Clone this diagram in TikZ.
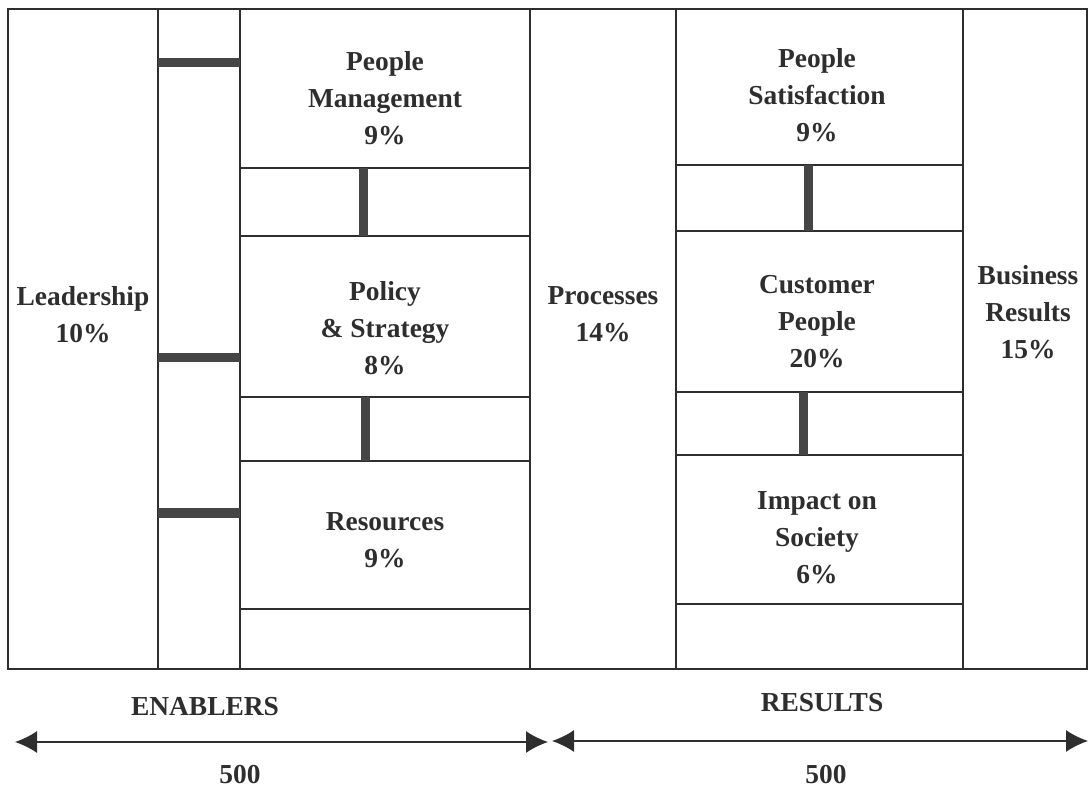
\documentclass[tikz,border=0pt]{standalone}
\usepackage{fontspec}
\setmainfont{Liberation Serif}
\usepackage{tikz}
\usetikzlibrary{arrows.meta}

\definecolor{inkgray}{HTML}{2E2E2E}
\definecolor{bargray}{HTML}{454545}

\tikzset{
	col/.style={shape=rectangle,draw=inkgray,line width=0.5pt,inner sep=0pt,outer sep=0pt,minimum height=6.6cm},
	box/.style={shape=rectangle,draw=inkgray,line width=0.5pt,inner sep=0pt,outer sep=0pt},
	txt/.style={align=center,text=inkgray,inner sep=0pt,font=\bfseries\fontsize{7.8}{10.5}\selectfont},
	bar/.style={draw=bargray,line width=0.09cm,line cap=butt},
	span/.style={draw=inkgray,line width=0.45pt,{Latex[length=2.2mm,width=2.2mm]}-{Latex[length=2.2mm,width=2.2mm]}}
}

\begin{document}
\begin{tikzpicture}[x=0.01cm,y=-0.01cm]
	
	\useasboundingbox[fill=white] (0,0) rectangle (1089,795);
	
	% columns
	\node[col,minimum width=1.5cm] (lead) at (83, 339) {};
	\node[col,minimum width=0.82cm] (lgap) at (199, 339) {};
	\node[col,minimum width=2.9cm] (encol) at (385, 339) {};
	\node[col,minimum width=1.46cm] (proc) at (603, 339) {};
	\node[col,minimum width=2.87cm] (rescol) at (819.5, 339) {};
	\node[col,minimum width=1.24cm] (bus) at (1025, 339) {};
	
	% enablers
	\node[box,minimum width=2.9cm,minimum height=1.59cm] (pm) at (385, 88.5) {};
	\node[box,minimum width=2.9cm,minimum height=1.61cm] (ps) at (385, 316.5) {};
	\node[box,minimum width=2.9cm,minimum height=1.48cm] (rs) at (385, 535) {};
	
	% results
	\node[box,minimum width=2.87cm,minimum height=1.56cm] (psat) at (819.5, 87) {};
	\node[box,minimum width=2.87cm,minimum height=1.61cm] (cp) at (819.5, 311.5) {};
	\node[box,minimum width=2.87cm,minimum height=1.49cm] (ios) at (819.5, 529.5) {};
	
	% labels
	\node[txt] (leadt) at (83, 315) {Leadership\\10\%};
	\node[txt] (pmt) at (385, 98) {People\\Management\\9\%};
	\node[txt] (pst) at (385, 328) {Policy\\\& Strategy\\8\%};
	\node[txt] (rst) at (385, 540) {Resources\\9\%};
	\node[txt] (proct) at (603, 314) {Processes\\14\%};
	\node[txt] (psatt) at (817, 95) {People\\Satisfaction\\9\%};
	\node[txt] (cpt) at (817, 322) {Customer\\People\\20\%};
	\node[txt] (iost) at (817, 538) {Impact on\\Society\\6\%};
	\node[txt] (bust) at (1028, 312) {Business\\Results\\15\%};
	
	% links between criteria
	\coordinate (h1) at (199, 63);
	\coordinate (h2) at (199, 358);
	\coordinate (h3) at (199, 513);
	\coordinate (v1) at (363, 200);
	\coordinate (v2) at (365, 430);
	\coordinate (v3) at (808, 200);
	\coordinate (v4) at (803, 425);
	
	\path[bar] (lead.east |- h1) edge (pm.west |- h1);
	\path[bar] (lead.east |- h2) edge (ps.west |- h2);
	\path[bar] (lead.east |- h3) edge (rs.west |- h3);
	\path[bar] (pm.south -| v1) edge (ps.north -| v1);
	\path[bar] (ps.south -| v2) edge (rs.north -| v2);
	\path[bar] (psat.south -| v3) edge (cp.north -| v3);
	\path[bar] (cp.south -| v4) edge (ios.north -| v4);
	
	% scale underneath
	\node[txt] (enab) at (205, 707) {ENABLERS};
	\node[txt] (resl) at (822, 703) {RESULTS};
	\node[txt] (enabn) at (240, 775) {500};
	\node[txt] (resn) at (826, 775) {500};
	
	\coordinate (eL) at (15, 742);
	\coordinate (eR) at (548, 742);
	\coordinate (rL) at (552, 741);
	\coordinate (rR) at (1088, 741);
	
	\draw[span] (eL) -- (eR);
	\draw[span] (rL) -- (rR);
	
\end{tikzpicture}
\end{document}
